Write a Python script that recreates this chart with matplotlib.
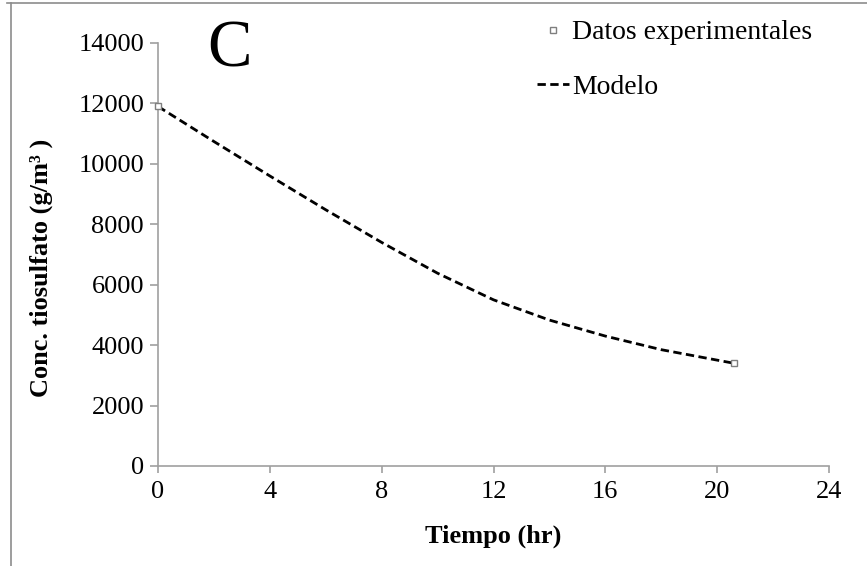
import matplotlib
matplotlib.use("Agg")
import matplotlib.pyplot as plt
from matplotlib.lines import Line2D

# Data
exp_time = [0.0, 20.6]
exp_conc = [11900, 3400]
model_time = [0, 2, 4, 6, 8, 10, 12, 14, 16, 18, 20.6]
model_conc = [11900, 10740, 9600, 8480, 7400, 6380, 5500, 4830, 4300, 3850, 3400]
xticks = [0, 4, 8, 12, 16, 20, 24]
yticks = [0, 2000, 4000, 6000, 8000, 10000, 12000, 14000]

plt.rcParams['font.family'] = ['Liberation Serif', 'DejaVu Serif']
W, H = 867, 566
fig = plt.figure(figsize=(W / 100, H / 100), dpi=100)
ax = fig.add_axes([158 / W, 1 - 466 / H, (829 - 158) / W, (466 - 43) / H])

gray = '#a0a0a0'
FS = 19
l_model, = ax.plot(model_time, model_conc, linestyle=(0, (3, 1.6)), color='black',
                   linewidth=2.0, label='Modelo', zorder=2)
l_exp, = ax.plot(exp_time, exp_conc, linestyle='none', marker='s', markersize=5,
                 markerfacecolor='white', markeredgecolor='#7f7f7f', markeredgewidth=1,
                 label='Datos experimentales', zorder=3, clip_on=False)

ax.set_xlim(0, 24)
ax.set_ylim(0, 14000)
ax.set_xticks(xticks)
ax.set_yticks(yticks)
for s in ['top', 'right']:
    ax.spines[s].set_visible(False)
for s in ['left', 'bottom']:
    ax.spines[s].set_color(gray)
    ax.spines[s].set_linewidth(1.2)
ax.tick_params(axis='both', direction='out', color=gray, width=1.2, labelsize=FS,
               labelcolor='black')
ax.tick_params(axis='y', length=6, pad=4)
ax.tick_params(axis='x', length=5, pad=6)

ax.set_xlabel('Tiempo (hr)', fontsize=FS, fontweight='bold')
ax.xaxis.set_label_coords(0.5, -(548 - 466) / 423)
ax.xaxis.label.set_va('bottom')
ax.set_ylabel('Conc. tiosulfato (g/m³ )', fontsize=FS, fontweight='bold')
ax.yaxis.set_label_coords((53 - 158) / 671, (466 - 268) / 423)

ax.text(230 / W, 1 - 50 / H, 'C', transform=fig.transFigure, fontsize=48,
        ha='center', va='center')

leg = ax.legend(handles=[l_exp, l_model], loc='upper left',
                bbox_to_anchor=(537 / W, 1 - 20 / H), bbox_transform=fig.transFigure,
                frameon=False, fontsize=20, handlelength=1.15, handletextpad=0.1,
                labelspacing=1.05, borderaxespad=0, borderpad=0)

# figure partial frame
fig.add_artist(Line2D([7 / W, 1], [1 - 3 / H, 1 - 3 / H], transform=fig.transFigure,
                      color='#8c8c8c', linewidth=1.2))
fig.add_artist(Line2D([11 / W, 11 / W], [0, 1 - 3 / H], transform=fig.transFigure,
                      color='#8c8c8c', linewidth=1.2))

fig.savefig('out.png', dpi=100)
